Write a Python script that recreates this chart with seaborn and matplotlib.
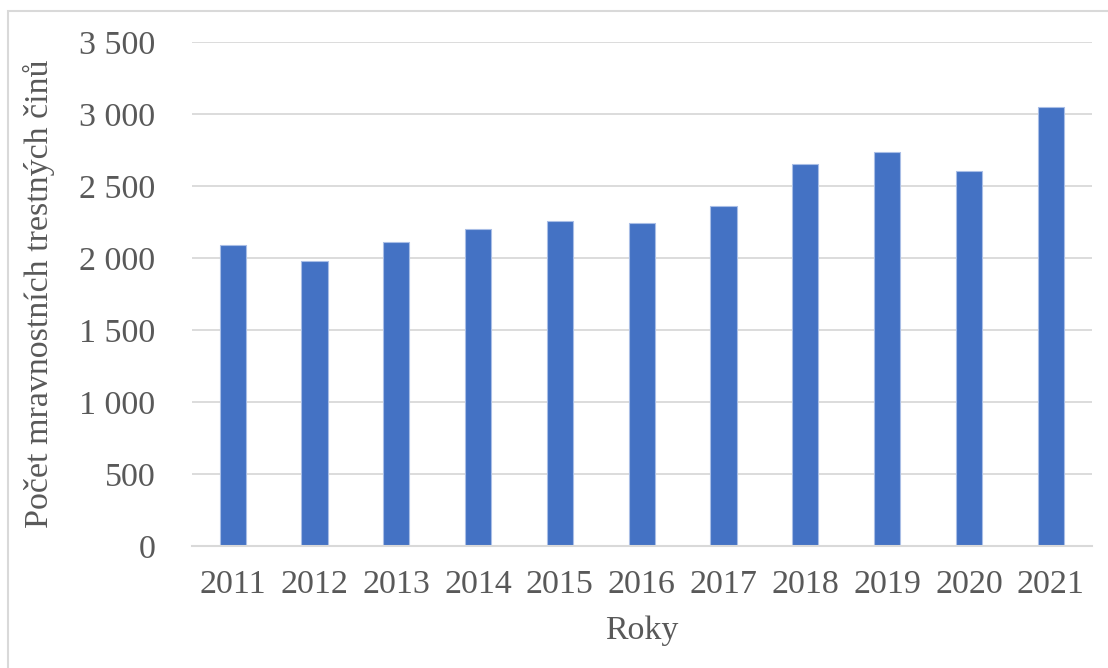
import numpy as np
import pandas as pd
import matplotlib
matplotlib.use('Agg')
import matplotlib.pyplot as plt
import seaborn as sns
from matplotlib.ticker import FuncFormatter

# data
years = ['2011', '2012', '2013', '2014', '2015', '2016', '2017', '2018', '2019', '2020', '2021']
crimes = [2088, 1981, 2111, 2204, 2257, 2243, 2364, 2654, 2734, 2607, 3050]

df = pd.DataFrame({'Roky': years, 'Pocet': crimes})

sns.set_style('white')
plt.rcParams['font.family'] = ['Liberation Serif', 'DejaVu Serif']

fig = plt.figure(figsize=(11.08, 6.68), dpi=100)
ax = fig.add_axes([0.173, 0.183, 0.8123, 0.7537])

# Excel-like light chart border
fig.patches.append(plt.Rectangle((8 / 1108, -0.1), 1.2, (668 - 11) / 668 + 0.1,
                                 transform=fig.transFigure, fill=False,
                                 edgecolor='#D9D9D9', linewidth=1.5))

sns.barplot(data=df, x='Roky', y='Pocet', color='#4472C4', saturation=1,
            width=0.32, edgecolor='#A9BEE6', linewidth=0.8, ax=ax)

ax.set_ylim(0, 3500)
ax.set_yticks(np.arange(0, 3501, 500))
ax.yaxis.set_major_formatter(FuncFormatter(lambda v, p: f'{int(v):,}'.replace(',', ' ')))
ax.set_xlim(-0.5, len(years) - 0.5)

ax.grid(axis='y', color='#D9D9D9', linewidth=1.3)
ax.set_axisbelow(True)
for s in ['top', 'right', 'left']:
    ax.spines[s].set_visible(False)
ax.spines['bottom'].set_color('#D9D9D9')
ax.spines['bottom'].set_linewidth(1.5)

ax.tick_params(axis='y', length=0, pad=26, labelsize=24.5, labelcolor='#595959')
ax.tick_params(axis='x', length=0, pad=17, labelsize=24.5, labelcolor='#595959')

ax.set_xlabel('Roky', fontsize=24.5, color='#595959', labelpad=11)
ax.set_ylabel('Počet mravnostních trestných činů', fontsize=24.5, color='#595959')
ax.yaxis.set_label_coords(-0.152, 0.5)

fig.savefig('out.png', dpi=100)
